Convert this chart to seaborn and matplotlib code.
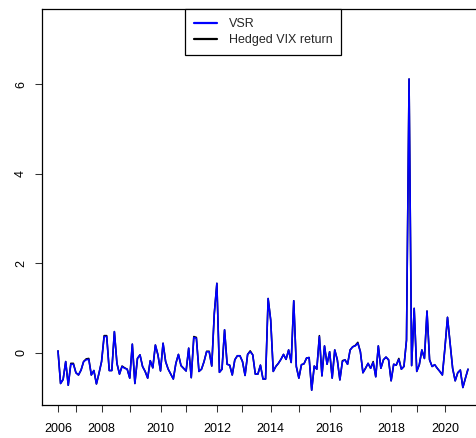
import matplotlib
matplotlib.use("Agg")
import matplotlib.pyplot as plt
import seaborn as sns
import pandas as pd
from matplotlib.lines import Line2D

# Monthly returns, observation by observation
vsr = [
    0.04, -0.69, -0.60, -0.20, -0.73, -0.26, -0.26, -0.45, -0.50, -0.39,
    -0.20, -0.16, -0.15, -0.50, -0.40, -0.70, -0.46, -0.20, 0.36, 0.36,
    -0.40, -0.40, 0.47, -0.24, -0.48, -0.31, -0.35, -0.37, -0.57, 0.19,
    -0.69, -0.13, -0.05, -0.31, -0.42, -0.57, -0.18, -0.34, 0.17, -0.05,
    -0.41, 0.21, -0.20, -0.37, -0.48, -0.59, -0.24, -0.04, -0.29, -0.35,
    -0.41, 0.10, -0.56, 0.34, 0.32, -0.42, -0.37, -0.20, 0.02, 0.02,
    -0.30, 0.88, 1.55, -0.44, -0.37, 0.51, -0.26, -0.28, -0.50, -0.16,
    -0.07, -0.07, -0.20, -0.51, -0.04, 0.02, -0.05, -0.48, -0.48, -0.28,
    -0.59, -0.59, 1.21, 0.73, -0.42, -0.31, -0.24, -0.15, -0.04, -0.15,
    0.06, -0.22, 1.16, -0.31, -0.57, -0.27, -0.25, -0.12, -0.11, -0.84,
    -0.30, -0.37, 0.36, -0.52, 0.15, -0.26, 0.02, -0.57, 0.06, -0.16,
    -0.61, -0.20, -0.16, -0.26, 0.06, 0.13, 0.15, 0.21, 0.02, -0.45,
    -0.35, -0.24, -0.35, -0.22, -0.54, 0.15, -0.35, -0.16, -0.10, -0.16,
    -0.63, -0.26, -0.28, -0.15, -0.37, -0.31, 0.28, 6.12, -0.29, 0.99,
    -0.42, -0.27, 0.06, -0.13, 0.93, -0.16, -0.31, -0.27, -0.35, -0.42,
    -0.50, 0.11, 0.79, 0.21, -0.35, -0.63, -0.45, -0.39, -0.78, -0.57,
    -0.37,
]

hedged = [
    0.04, -0.69, -0.60, -0.20, -0.73, -0.24, -0.24, -0.45, -0.50, -0.39,
    -0.20, -0.14, -0.13, -0.50, -0.40, -0.70, -0.46, -0.20, 0.38, 0.38,
    -0.40, -0.40, 0.47, -0.24, -0.48, -0.30, -0.34, -0.37, -0.57, 0.19,
    -0.69, -0.13, -0.05, -0.31, -0.42, -0.57, -0.18, -0.34, 0.17, -0.05,
    -0.41, 0.21, -0.20, -0.37, -0.48, -0.59, -0.24, -0.04, -0.29, -0.35,
    -0.41, 0.10, -0.56, 0.36, 0.34, -0.42, -0.37, -0.20, 0.03, 0.03,
    -0.30, 0.88, 1.55, -0.44, -0.37, 0.51, -0.26, -0.28, -0.50, -0.16,
    -0.07, -0.07, -0.20, -0.51, -0.04, 0.04, -0.05, -0.48, -0.48, -0.28,
    -0.59, -0.59, 1.21, 0.73, -0.42, -0.31, -0.24, -0.15, -0.04, -0.15,
    0.06, -0.22, 1.16, -0.31, -0.57, -0.27, -0.25, -0.12, -0.11, -0.84,
    -0.30, -0.37, 0.38, -0.52, 0.15, -0.26, 0.02, -0.57, 0.06, -0.16,
    -0.61, -0.18, -0.16, -0.26, 0.06, 0.13, 0.16, 0.23, 0.02, -0.45,
    -0.35, -0.24, -0.35, -0.20, -0.54, 0.15, -0.35, -0.16, -0.10, -0.16,
    -0.63, -0.26, -0.28, -0.13, -0.37, -0.31, 0.28, 6.12, -0.29, 0.99,
    -0.42, -0.27, 0.06, -0.13, 0.93, -0.16, -0.31, -0.27, -0.35, -0.42,
    -0.50, 0.11, 0.79, 0.21, -0.35, -0.63, -0.45, -0.39, -0.78, -0.57,
    -0.37,
]

# First observation of each calendar year
year_labels = [2006, 2007, 2008, 2009, 2010, 2011, 2012, 2013,
               2014, 2015, 2016, 2017, 2018, 2019, 2020]
year_obs = [0, 7, 17, 28, 40, 50, 62, 72, 83, 94, 106, 118, 130, 140, 151]

y_ticks = [0, 2, 4, 6]

obs = list(range(len(vsr)))
df = pd.DataFrame({"obs": obs, "vsr": vsr, "hedged": hedged})

sns.set_style("white")
plt.rcParams["font.family"] = ["Liberation Sans", "DejaVu Sans"]

fig = plt.figure(figsize=(4.76, 4.38), dpi=100)
ax = fig.add_axes([41.6 / 476, 1 - 405.3 / 438, (484.4 - 41.6) / 476, (405.3 - 9) / 438])

sns.lineplot(data=df, x="obs", y="hedged", color="black", linewidth=1.15, ax=ax)
sns.lineplot(data=df, x="obs", y="vsr", color="#0000ff", linewidth=1.15, ax=ax)

ax.set_xlim(-6.4, 166.4)
ax.set_ylim(-1.178, 7.685)
ax.set_xlabel("")
ax.set_ylabel("")

ax.set_xticks(year_obs)
ax.set_xticklabels([str(y) if y % 2 == 0 else "" for y in year_labels])
ax.set_yticks(y_ticks)
ax.set_yticklabels([str(v) for v in y_ticks], rotation=90, va="center")

ax.tick_params(axis="both", which="both", direction="out", length=5, width=0.75,
               color="#333333", labelsize=9, labelcolor="black",
               bottom=True, left=True)
ax.tick_params(axis="x", pad=7.5)
ax.tick_params(axis="y", pad=5.5)

for side in ["left", "bottom", "top", "right"]:
    ax.spines[side].set_visible(True)
    ax.spines[side].set_color("black")
    ax.spines[side].set_linewidth(0.9)

handles = [
    Line2D([], [], color="#0000ff", linewidth=1.6),
    Line2D([], [], color="black", linewidth=1.6),
]
leg = ax.legend(handles, ["VSR", "Hedged VIX return"], loc="upper center",
                bbox_to_anchor=(0.5, 1.0), borderaxespad=0, fontsize=9,
                frameon=True, fancybox=False, framealpha=1, edgecolor="black",
                handlelength=1.9, handletextpad=0.9, borderpad=0.72,
                labelspacing=0.32)
leg.get_frame().set_linewidth(0.9)

fig.savefig("out.png", dpi=100)
